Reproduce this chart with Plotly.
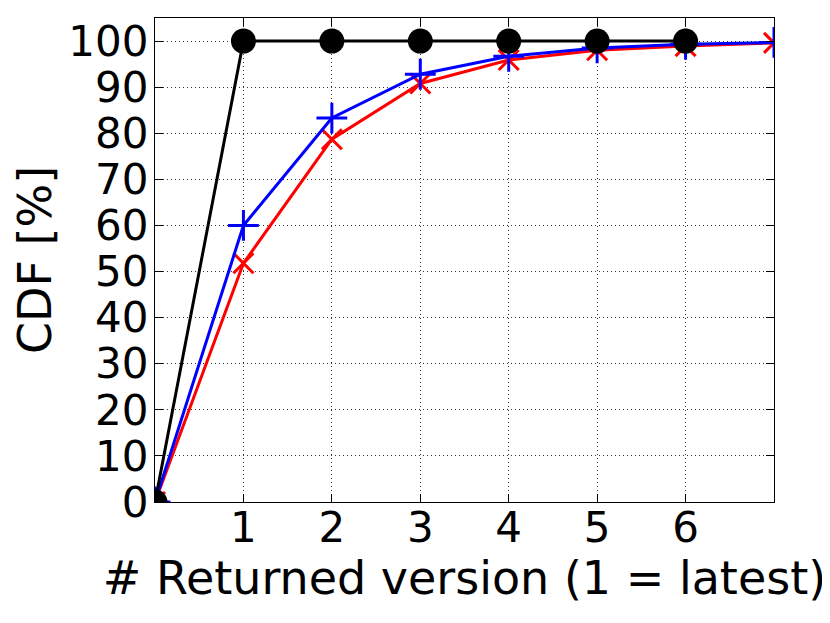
import plotly.graph_objects as go

x_vals = [0, 1, 2, 3, 4, 5, 6, 7]
black_x = [0, 1, 2, 3, 4, 5, 6]
black_y = [0, 100, 100, 100, 100, 100, 100]
blue_y = [0, 60, 83.3, 92.8, 96.7, 98.5, 99.3, 99.7]
red_y = [0, 51.8, 78.7, 90.8, 95.9, 98.0, 98.9, 99.6]
x_ticks = [1, 2, 3, 4, 5, 6]
y_ticks = [0, 10, 20, 30, 40, 50, 60, 70, 80, 90, 100]

fig = go.Figure()
fig.add_trace(go.Scatter(x=x_vals, y=red_y, mode="lines+markers",
                         line=dict(color="#ff0000", width=3),
                         marker=dict(symbol="x-thin", size=20, line=dict(color="#ff0000", width=3))))
fig.add_trace(go.Scatter(x=x_vals, y=blue_y, mode="lines+markers",
                         line=dict(color="#0000ff", width=3),
                         marker=dict(symbol="cross-thin", size=22, line=dict(color="#0000ff", width=3))))
fig.add_trace(go.Scatter(x=black_x, y=black_y, mode="lines+markers",
                         line=dict(color="#000000", width=3),
                         marker=dict(symbol="circle", size=25, color="#000000")))

tick_font = dict(family="DejaVu Sans", size=42, color="black")
title_font = dict(family="DejaVu Sans", size=46, color="black")
fig.update_layout(
    width=830, height=623,
    margin=dict(l=147, r=64, t=10, b=129),
    paper_bgcolor="white", plot_bgcolor="white",
    showlegend=False,
    font=tick_font,
)
common = dict(showline=True, linecolor="black", linewidth=1.2, mirror="ticks",
              ticks="inside", ticklen=8, tickcolor="black", tickwidth=1,
              showgrid=True, gridcolor="#333333", griddash="1px,3px", gridwidth=1,
              zeroline=False, tickfont=tick_font)
fig.update_xaxes(range=[0, 7], tickvals=x_ticks, ticktext=[str(v) for v in x_ticks],
                 ticklabelstandoff=-12,
                 title=dict(text="# Returned version (1 = latest)", font=title_font, standoff=0),
                 **common)
fig.update_yaxes(range=[0, 105], tickvals=y_ticks, ticktext=[str(v) for v in y_ticks],
                 ticklabelstandoff=-3,
                 title=dict(text="CDF [%]", font=title_font, standoff=10),
                 **common)
fig.write_html("out.html")
